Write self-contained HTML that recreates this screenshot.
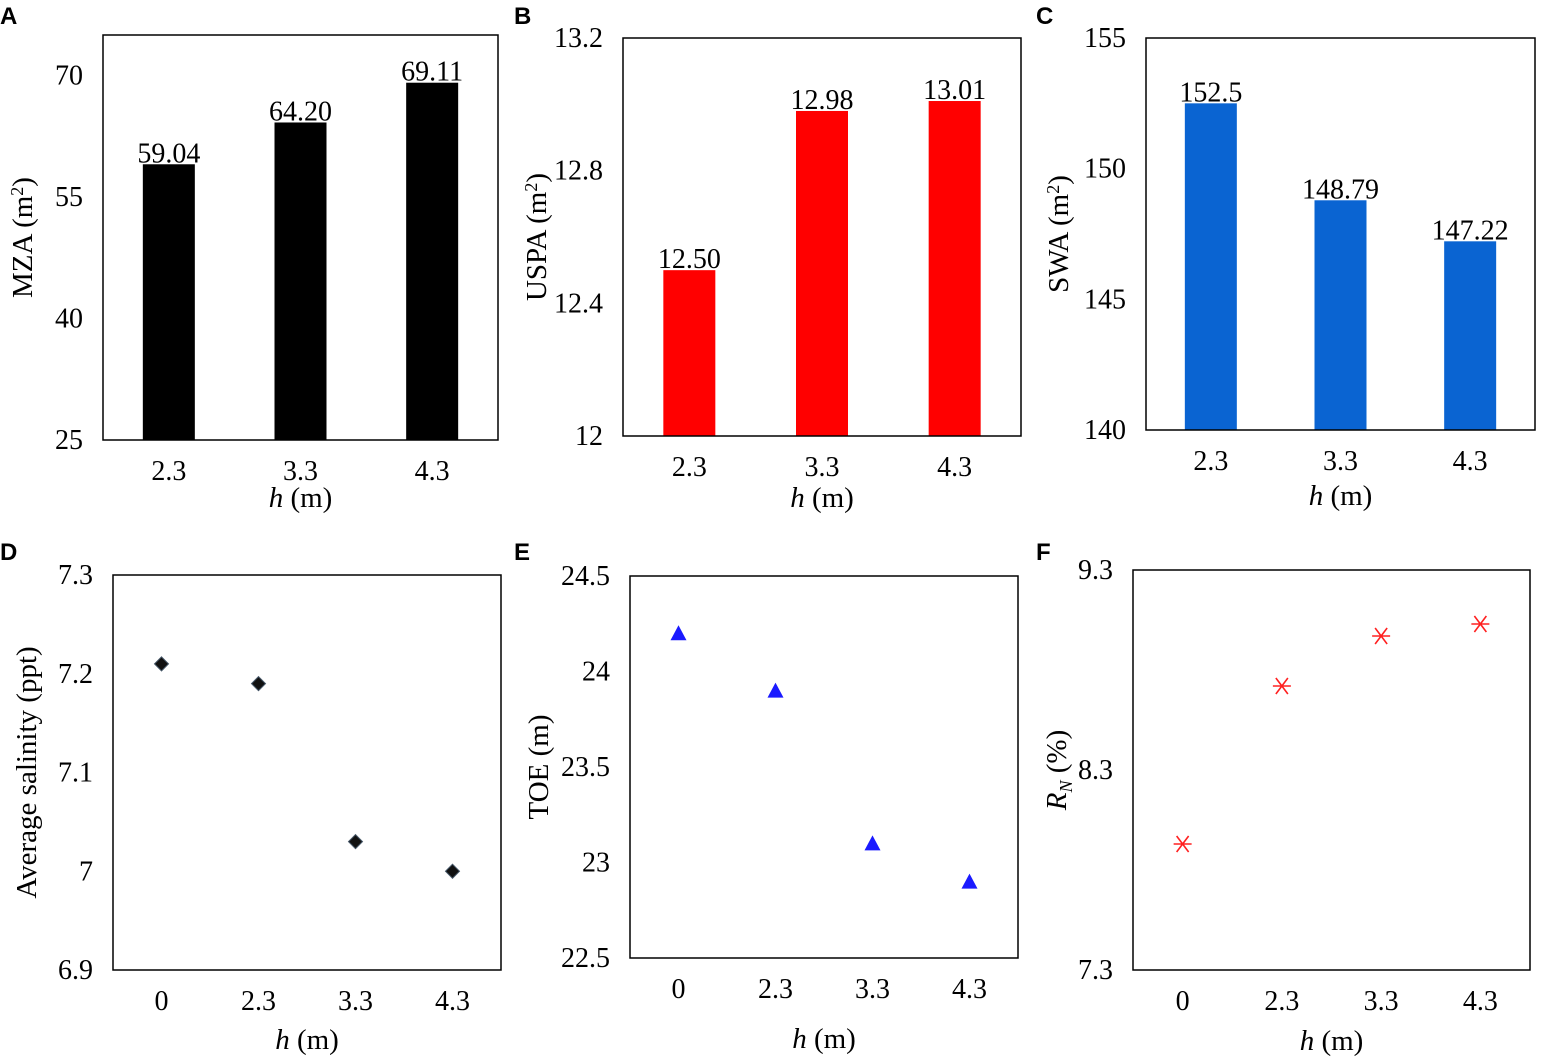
<!DOCTYPE html>
<html><head><meta charset="utf-8"><style>
html,body{margin:0;padding:0;background:#fff;}
svg{display:block;}
svg text{font-family:"Liberation Serif","Times New Roman",serif;}
svg text.lbl{font-family:"Liberation Sans",sans-serif;font-weight:bold;font-size:24px;}
</style></head><body>
<svg id="chart" width="1541" height="1061" viewBox="0 0 1541 1061"></svg>
<script>
// Panel A data
const catsBar = ["2.3","3.3","4.3"];
const valsA = [59.04, 64.20, 69.11];
const labA = ["59.04","64.20","69.11"];
const ticksA = [25,40,55,70];
// Panel B
const valsB = [12.50, 12.98, 13.01];
const labB = ["12.50","12.98","13.01"];
const ticksB = [12,12.4,12.8,13.2];
const tickLabB = ["12","12.4","12.8","13.2"];
// Panel C
const valsC = [152.5, 148.79, 147.22];
const labC = ["152.5","148.79","147.22"];
const ticksC = [140,145,150,155];
// Scatter categories
const catsSc = ["0","2.3","3.3","4.3"];
const valsD = [7.21, 7.19, 7.03, 7.00];
const ticksD = [6.9,7,7.1,7.2,7.3];
const tickLabD = ["6.9","7","7.1","7.2","7.3"];
const valsE = [24.2, 23.9, 23.1, 22.9];
const ticksE = [22.5,23,23.5,24,24.5];
const tickLabE = ["22.5","23","23.5","24","24.5"];
const valsF = [7.93, 8.72, 8.97, 9.03];
const ticksF = [7.3,8.3,9.3];
const tickLabF = ["7.3","8.3","9.3"];

const NS="http://www.w3.org/2000/svg";
const svg=document.getElementById('chart');
function el(tag,attrs,parent,text){const e=document.createElementNS(NS,tag);for(const k in attrs)e.setAttribute(k,attrs[k]);if(text!==undefined)e.textContent=text;(parent||svg).appendChild(e);return e;}

function panel(o){
  const g=el('g',{});
  
  
  const y=v=>o.y1-(v-o.vmin)/(o.vmax-o.vmin)*(o.y1-o.y0);
  const n=o.cats.length, bw=(o.x1-o.x0)/n;
  const x=i=>o.x0+bw*(i+0.5);
  const t=el('text',{x:o.lx,y:o.ly,class:'lbl'},g,o.id);
  
  
  o.vals.forEach((v,i)=>{
    if(o.type==='bar'){
      const r=el('rect',{x:x(i)-26,y:y(v),width:52,height:o.y1-y(v),fill:o.color},g);
      
      
      const tl=el('text',{x:x(i),y:y(v)-2,'text-anchor':'middle','font-size':28},g,o.labs[i]);
      
      
    } else {
      const cx=x(i), cy=y(v);
      let m;
      if(o.marker==='diamond') m=el('path',{d:`M${cx} ${cy-7}L${cx+7} ${cy}L${cx} ${cy+7}L${cx-7} ${cy}Z`,fill:'#111',stroke:'#456',"stroke-width":1},g);
      else if(o.marker==='tri') m=el('path',{d:`M${cx} ${cy-8}L${cx+8} ${cy+7}L${cx-8} ${cy+7}Z`,fill:'#1a1aff'},g);
      else m=el('path',{d:`M${cx-9} ${cy}H${cx+9}M${cx-6} ${cy-8}L${cx+6} ${cy+8}M${cx+6} ${cy-8}L${cx-6} ${cy+8}`,stroke:'#ff2020','stroke-width':1.6,fill:'none'},g);
      
      
    }
  });
  const box=el('rect',{x:o.x0,y:o.y0,width:o.x1-o.x0,height:o.y1-o.y0,fill:'none',stroke:'#000','stroke-width':1.5},g);
  
  
  o.ticks.forEach((tv,i)=>{
    const tt=el('text',{x:o.x0-20,y:y(tv)+9,'text-anchor':'end','font-size':28},g,o.tickLabs?o.tickLabs[i]:String(tv));
    
    
  });
  o.cats.forEach((c,i)=>{
    const tt=el('text',{x:x(i),y:o.y1+o.xlOff,'text-anchor':'middle','font-size':28},g,c);
    
    
  });
  const xt=el('text',{x:(o.x0+o.x1)/2,y:o.y1+o.xtOff,'text-anchor':'middle','font-size':29},g);
  
  
  el('tspan',{'font-style':'italic'},xt,'h');
  el('tspan',{},xt,' (m)');
  const yt=el('text',{transform:`translate(${o.ytx},${(o.y0+o.y1)/2}) rotate(-90)`,'text-anchor':'middle','font-size':29},g);
  
  
  o.ytitle(yt);
}
const m2=t=>{};
panel({id:'A',lx:0,ly:24,type:'bar',x0:103,x1:498,y0:35,y1:440,vmin:25,vmax:75,cats:catsBar,vals:valsA,labs:labA,ticks:ticksA,color:'#000',ytx:32,xlOff:40,xtOff:67,
  ytitle:t=>{el('tspan',{},t,'MZA (m');el('tspan',{'font-size':18,dy:-9},t,'2');el('tspan',{dy:9},t,')');}});
panel({id:'B',lx:514,ly:24,type:'bar',x0:623,x1:1021,y0:38,y1:436,vmin:12,vmax:13.2,cats:catsBar,vals:valsB,labs:labB,ticks:ticksB,tickLabs:tickLabB,color:'#ff0000',ytx:546,xlOff:40,xtOff:71,
  ytitle:t=>{el('tspan',{},t,'USPA (m');el('tspan',{'font-size':18,dy:-9},t,'2');el('tspan',{dy:9},t,')');}});
panel({id:'C',lx:1036,ly:24,type:'bar',x0:1146,x1:1535,y0:38,y1:430,vmin:140,vmax:155,cats:catsBar,vals:valsC,labs:labC,ticks:ticksC,color:'#0a64d2',ytx:1068,xlOff:40,xtOff:75,
  ytitle:t=>{el('tspan',{},t,'SWA (m');el('tspan',{'font-size':18,dy:-9},t,'2');el('tspan',{dy:9},t,')');}});
panel({id:'D',lx:0,ly:560,type:'sc',marker:'diamond',x0:113,x1:501,y0:575,y1:970,vmin:6.9,vmax:7.3,cats:catsSc,vals:valsD,ticks:ticksD,tickLabs:tickLabD,ytx:36,xlOff:40,xtOff:79,
  ytitle:t=>{t.textContent='Average salinity (ppt)';}});
panel({id:'E',lx:514,ly:560,type:'sc',marker:'tri',x0:630,x1:1018,y0:576,y1:958,vmin:22.5,vmax:24.5,cats:catsSc,vals:valsE,ticks:ticksE,tickLabs:tickLabE,ytx:548,xlOff:40,xtOff:90,
  ytitle:t=>{t.textContent='TOE (m)';}});
panel({id:'F',lx:1036,ly:560,type:'sc',marker:'star',x0:1133,x1:1530,y0:570,y1:970,vmin:7.3,vmax:9.3,cats:catsSc,vals:valsF,ticks:ticksF,tickLabs:tickLabF,ytx:1066,xlOff:40,xtOff:80,
  ytitle:t=>{el('tspan',{'font-style':'italic'},t,'R');el('tspan',{'font-style':'italic','font-size':18,dy:6},t,'N');el('tspan',{dy:-6},t,' (%)');}});
</script>
</body></html>
